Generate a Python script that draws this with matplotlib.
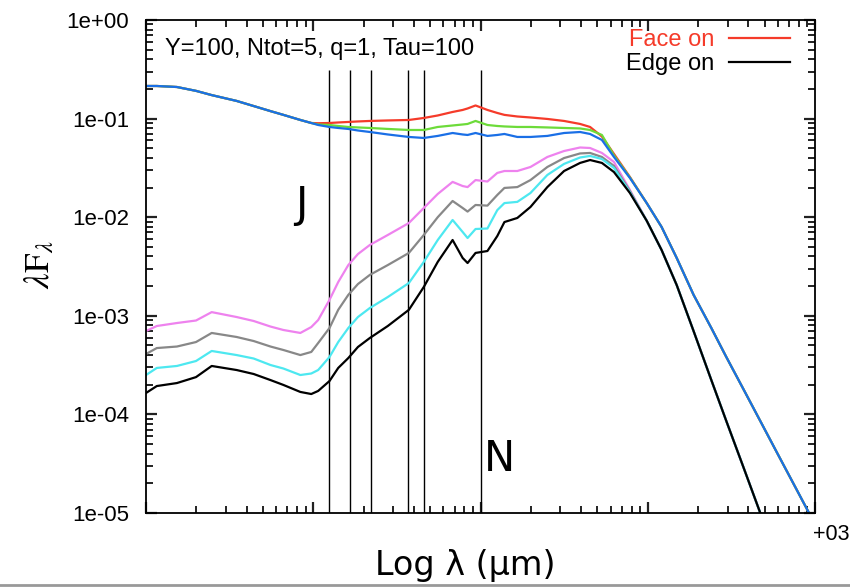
import matplotlib.pyplot as plt
from matplotlib.lines import Line2D
from matplotlib.ticker import NullFormatter

plt.rcParams['font.family'] = ['Liberation Sans', 'DejaVu Sans']
plt.rcParams['mathtext.fontset'] = 'stix'

# wavelength grid (micron)
wave = [0.1, 0.116, 0.153, 0.199, 0.247, 0.348, 0.44, 0.555, 0.663, 0.837, 0.973,
        1.07, 1.25, 1.41, 1.62, 1.85, 2.18, 2.79, 3.73, 4.58, 5.55, 6.81, 7.82, 8.37,
        9.34, 11.0, 12.6, 13.9, 16.6, 19.9, 25.1, 31.6, 39.4, 45.2, 53.2, 62.8, 78.2,
        98.6, 121, 149, 188, 240, 295, 373, 471, 586, 771, 1000]

# the upper three inclinations share the short and long wavelength ends
top_uv = [0.214, 0.214, 0.209, 0.191, 0.173, 0.151, 0.134, 0.119, 0.109, 0.0968, 0.0902]
top_tail = [0.0139, 0.00796, 0.00386, 0.00163, 0.000752, 0.000382, 0.000181,
            8.57e-5, 4.25e-5, 1.77e-5, 7.7e-6]
low_tail = [9.2e-3, 4.65e-3, 2.05e-3, 7.0e-4, 2.23e-4, 8.57e-5, 2.93e-5,
            1.0e-5, 3.66e-6, 1.04e-6, 3.98e-7]

face_on = top_uv + [0.0897, 0.0902, 0.0913, 0.0924, 0.0935, 0.0946, 0.0957, 0.0968,
                    0.1014, 0.1075, 0.1167, 0.1223, 0.1266, 0.1358, 0.1223, 0.114,
                    0.109, 0.105, 0.1026, 0.0991, 0.0946, 0.0882, 0.0822, 0.0658,
                    0.0438, 0.0256] + top_tail
incl_2 = top_uv + [0.0871, 0.0861, 0.0841, 0.0822, 0.0813, 0.0803, 0.0785, 0.0766,
                   0.0766, 0.0822, 0.0851, 0.0871, 0.0882, 0.0946, 0.0861, 0.0841,
                   0.0832, 0.0822, 0.0822, 0.0813, 0.0803, 0.0794, 0.0766, 0.0682,
                   0.0423, 0.0253] + top_tail
incl_3 = top_uv + [0.0861, 0.0822, 0.0803, 0.0785, 0.0757, 0.0731, 0.0690, 0.0651,
                   0.0636, 0.0667, 0.0714, 0.0690, 0.0682, 0.0714, 0.0667, 0.0682,
                   0.0698, 0.0651, 0.0651, 0.0667, 0.0714, 0.0731, 0.0698, 0.0607,
                   0.0408, 0.0250] + top_tail
incl_4 = [7.01e-4, 7.88e-4, 8.45e-4, 8.96e-4, 1.09e-3, 9.72e-4, 8.86e-4, 7.78e-4,
          7.18e-4, 6.70e-4, 7.69e-4, 9.06e-4, 1.45e-3, 2.20e-3, 3.27e-3, 4.23e-3,
          5.23e-3, 6.60e-3, 8.73e-3, 1.24e-2, 1.72e-2, 2.28e-2, 2.07e-2, 2.02e-2,
          2.38e-2, 2.30e-2, 2.81e-2, 2.94e-2, 2.94e-2, 3.23e-2, 4.08e-2, 4.69e-2,
          5.09e-2, 5.03e-2, 4.48e-2, 3.63e-2, 1.89e-2] + low_tail
incl_5 = [4.10e-4, 4.71e-4, 4.88e-4, 5.42e-4, 6.70e-4, 6.10e-4, 5.55e-4, 4.88e-4,
          4.50e-4, 4.00e-4, 4.30e-4, 5.30e-4, 7.52e-4, 1.15e-3, 1.63e-3, 2.10e-3,
          2.60e-3, 3.27e-3, 4.34e-3, 6.60e-3, 1.00e-2, 1.46e-2, 1.24e-2, 1.14e-2,
          1.33e-2, 1.31e-2, 1.68e-2, 1.98e-2, 2.02e-2, 2.38e-2, 3.23e-2, 3.98e-2,
          4.43e-2, 4.48e-2, 4.08e-2, 3.31e-2, 1.84e-2] + low_tail
incl_6 = [2.51e-4, 2.96e-4, 3.10e-4, 3.48e-4, 4.40e-4, 4.00e-4, 3.69e-4, 3.17e-4,
          2.92e-4, 2.51e-4, 2.60e-4, 2.82e-4, 3.82e-4, 5.42e-4, 7.52e-4, 9.72e-4,
          1.20e-3, 1.55e-3, 2.15e-3, 3.52e-3, 5.87e-3, 9.37e-3, 7.08e-3, 6.15e-3,
          7.59e-3, 7.68e-3, 1.18e-2, 1.39e-2, 1.43e-2, 1.76e-2, 2.68e-2, 3.47e-2,
          4.03e-2, 4.18e-2, 3.89e-2, 3.16e-2, 1.80e-2] + low_tail
edge_on = [1.65e-4, 1.94e-4, 2.08e-4, 2.39e-4, 3.10e-4, 2.82e-4, 2.57e-4, 2.23e-4,
           1.99e-4, 1.69e-4, 1.61e-4, 1.73e-4, 2.18e-4, 2.96e-4, 3.73e-4, 4.83e-4,
           5.96e-4, 7.88e-4, 1.15e-3, 1.96e-3, 3.52e-3, 5.87e-3, 3.86e-3, 3.43e-3,
           4.34e-3, 4.54e-3, 6.44e-3, 8.93e-3, 9.82e-3, 1.27e-2, 2.02e-2, 2.94e-2,
           3.55e-2, 3.80e-2, 3.55e-2, 2.87e-2, 1.76e-2] + low_tail

# photometric bands J H K L M N (micron)
bands = [1.25, 1.65, 2.2, 3.7, 4.6, 10.0]

ytick_vals = [1e-5, 1e-4, 1e-3, 1e-2, 1e-1, 1e0]
ytick_labels = ['1e-05', '1e-04', '1e-03', '1e-02', '1e-01', '1e+00']

fig = plt.figure(figsize=(8.5, 5.87), dpi=100)
ax = fig.add_axes([0.1718, 0.126, 0.787, 0.840])

ax.vlines(bands, 1e-5, 0.31, color='black', lw=1.0)

ax.plot(wave, face_on, color='#f53b2a', lw=1.6, label='Face on')
ax.plot(wave, incl_2, color='#6ddb3a', lw=1.6)
ax.plot(wave, incl_3, color='#1a6fe6', lw=1.6)
ax.plot(wave, incl_4, color='#ee82ee', lw=1.6)
ax.plot(wave, incl_5, color='#888888', lw=1.6)
ax.plot(wave, incl_6, color='#4de8f0', lw=1.6)
ax.plot(wave, edge_on, color='black', lw=1.6, label='Edge on')

ax.set_xscale('log')
ax.set_yscale('log')
ax.set_xlim(0.1, 1000)
ax.set_ylim(1e-5, 1)

ax.set_yticks(ytick_vals, ytick_labels)
ax.yaxis.set_minor_formatter(NullFormatter())
ax.xaxis.set_major_formatter(NullFormatter())
ax.xaxis.set_minor_formatter(NullFormatter())
# gnuplot style: ticks inside on all four sides
ax.tick_params(which='both', direction='in', top=True, right=True, color='#222222')
ax.tick_params(which='major', length=8, width=1.6, labelsize=16, pad=12)
ax.tick_params(which='minor', length=5, width=1.4)
for s in ax.spines.values():
    s.set_linewidth(1.3)

ax.text(0.028, 0.942, 'Y=100, Ntot=5, q=1, Tau=100', transform=ax.transAxes,
        fontsize=17, ha='left', va='center')

leg = ax.legend(loc='upper right', bbox_to_anchor=(0.963, 0.982), frameon=False,
                markerfirst=False, fontsize=17, handlelength=2.6, handletextpad=0.6,
                labelspacing=0.1, borderpad=0, borderaxespad=0,
                labelcolor=['#f53b2a', 'black'])

ax.text(0.85, 0.0133, 'J', fontsize=30, ha='center', va='center', family='DejaVu Sans')
ax.text(12.9, 3.5e-5, 'N', fontsize=30, ha='center', va='center', family='DejaVu Sans')

fig.text(0.047, 0.549, r'$\lambda \mathrm{F}_\lambda$', rotation=90, fontsize=25,
         ha='center', va='center')
fig.text(0.547, 0.037, 'Log λ (µm)', fontsize=24, ha='center', va='center',
         family='DejaVu Sans')
fig.text(0.957, 0.0886, '+03', fontsize=15.5, ha='left', va='center')

fig.add_artist(Line2D([0, 1], [0.003, 0.003], transform=fig.transFigure,
                      color='#999999', lw=2))

fig.savefig('out.png', dpi=100)
